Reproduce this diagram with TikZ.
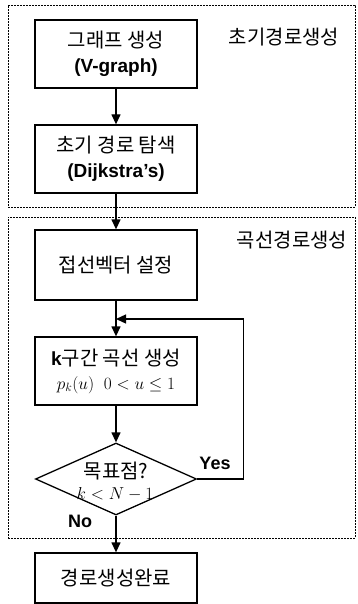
\documentclass[tikz,border=0pt]{standalone}
\usepackage{fontspec}
\setmainfont{Liberation Sans}
\newfontfamily\kr[Scale=1.05]{Noto Sans CJK KR}
\usetikzlibrary{arrows.meta,shapes.geometric}
\tikzset{
  box/.style={draw, line width=1.3pt, minimum width=162pt, inner sep=0pt, align=center,
    font=\fontsize{19}{25}\selectfont},
  grp/.style={draw, line width=0.9pt, dash pattern=on 2pt off 1pt, inner sep=0pt},
  arr/.style={line width=1.3pt, -{Triangle[length=10pt,width=9pt]}},
  lbl/.style={inner sep=0pt, font=\fontsize{19}{22}\selectfont\kr},
  yn/.style={inner sep=0pt, font=\fontsize{18}{22}\selectfont\bfseries}
}
\begin{document}
\begin{tikzpicture}[x=1pt,y=-1pt]
\useasboundingbox (0,0) rectangle (357,604);
\node[grp, minimum width=347pt, minimum height=202pt] (g1) at (181.5,106) {};
\node[grp, minimum width=347pt, minimum height=321pt] (g2) at (181.5,377.5) {};
\node[lbl] (l1) at (284,37) {초기경로생성};
\node[lbl] (l2) at (292,240) {곡선경로생성};
\node[box, minimum height=68pt] (b1) at (116,54) {{\kr 그래프 생성}\\\textbf{(V-graph)}};
\node[box, minimum height=68pt] (b2) at (116,159) {{\kr 초기 경로 탐색}\\\textbf{(Dijkstra’s)}};
\node[box, minimum height=70pt] (b3) at (116,265) {\kr 접선벡터 설정};
\node[box, minimum height=68pt] (b4) at (116,371) {\textbf{k}{\kr 구간 곡선 생성}\\[-1pt]{\fontsize{17}{20}\selectfont$p_k(u)\;\;0<u\le 1$}};
\node[draw, diamond, line width=1.3pt, minimum width=161pt, minimum height=72pt, inner sep=0pt] (d) at (116,479) {};
\node[inner sep=0pt, font=\fontsize{19}{19}\selectfont\kr] (dq) at (116,471) {목표점?};
\node[inner sep=0pt, font=\fontsize{16}{16}\selectfont] (dk) at (115,494) {$k<N-1$};
\node[box, minimum height=50pt] (b5) at (116,578) {\kr 경로생성완료};
\coordinate (lp) at (116,319);
\draw[arr] (b1) -- (b2);
\draw[arr] (b2) -- (b3);
\draw[arr] (b3) -- (b4);
\draw[arr] (b4) -- (d);
\draw[arr] (d) -- (b5);
\draw[arr] (d.east) -- ++(46,0) |- (lp);
\node[yn] (yes) at (215,463) {Yes};
\node[yn] (no) at (80,521) {No};
\end{tikzpicture}
\end{document}
